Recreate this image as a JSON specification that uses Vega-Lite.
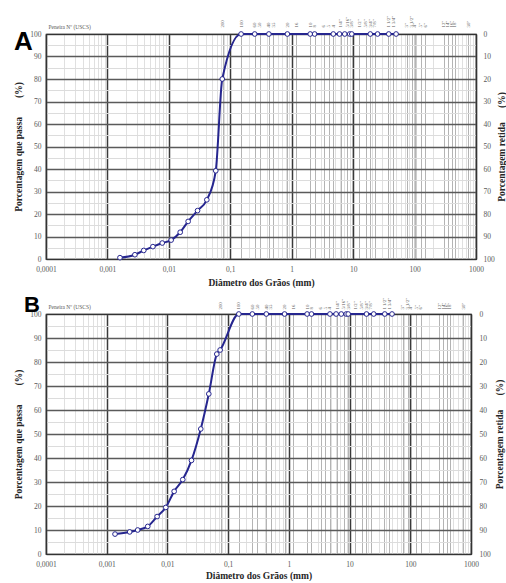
{
  "$schema": "https://vega.github.io/schema/vega-lite/v6.json",
  "padding": {"left": 13, "top": 14, "right": 0, "bottom": 0},
  "background": "white",
  "spacing": 5,
  "datasets": {
    "A": [
      {"d": 0.0016, "p": 0.6}, {"d": 0.0028, "p": 1.9}, {"d": 0.0039, "p": 3.8},
      {"d": 0.0055, "p": 5.5}, {"d": 0.0078, "p": 7.1}, {"d": 0.0109, "p": 8.4},
      {"d": 0.0153, "p": 11.9}, {"d": 0.0206, "p": 16.7}, {"d": 0.0293, "p": 21.5},
      {"d": 0.0415, "p": 26.3}, {"d": 0.058, "p": 39.2}, {"d": 0.074, "p": 80},
      {"d": 0.15, "p": 100}, {"d": 0.25, "p": 100}, {"d": 0.425, "p": 100},
      {"d": 0.85, "p": 100}, {"d": 2.0, "p": 100}, {"d": 2.36, "p": 100},
      {"d": 4.75, "p": 100}, {"d": 6.0, "p": 100}, {"d": 7.3, "p": 100},
      {"d": 8.8, "p": 100}, {"d": 9.5, "p": 100}, {"d": 19, "p": 100},
      {"d": 25, "p": 100}, {"d": 38, "p": 100}, {"d": 50, "p": 100}
    ],
    "B": [
      {"d": 0.00137, "p": 8.3}, {"d": 0.00239, "p": 9.2}, {"d": 0.00324, "p": 10.0},
      {"d": 0.00474, "p": 11.5}, {"d": 0.00676, "p": 15.6}, {"d": 0.0094, "p": 19.4},
      {"d": 0.0129, "p": 26.1}, {"d": 0.0179, "p": 31.0}, {"d": 0.0249, "p": 39.0},
      {"d": 0.0354, "p": 52.1}, {"d": 0.048, "p": 66.7}, {"d": 0.065, "p": 83.3},
      {"d": 0.0738, "p": 85}, {"d": 0.15, "p": 100}, {"d": 0.25, "p": 100},
      {"d": 0.425, "p": 100}, {"d": 0.85, "p": 100}, {"d": 2.0, "p": 100},
      {"d": 2.36, "p": 100}, {"d": 4.75, "p": 100}, {"d": 6.0, "p": 100},
      {"d": 7.3, "p": 100}, {"d": 8.8, "p": 100}, {"d": 9.5, "p": 100},
      {"d": 19, "p": 100}, {"d": 25, "p": 100}, {"d": 38, "p": 100}, {"d": 50, "p": 100}
    ]
  },
  "vconcat": [
    {
      "width": 430,
      "height": 225,
      "title": {"text": "A", "anchor": "start", "frame": "group", "orient": "top", "offset": 0, "baseline": "top", "dx": -32, "dy": 40, "fontSize": 26, "font": "Liberation Sans", "fontWeight": "bold", "color": "black"},
      "data": {"name": "A"},
      "layer": [
        {
          "mark": {"type": "line", "color": "#26268f", "strokeWidth": 2, "interpolate": "monotone",
                   "point": {"filled": false, "fill": "white", "color": "#26268f", "size": 22, "strokeWidth": 1}},
          "encoding": {
            "x": {"field": "d", "type": "quantitative",
                  "scale": {"type": "log", "domain": [0.0001, 1000]},
                  "axis": {"orient": "bottom", "title": "Diâmetro dos Grãos (mm)",
                           "values": [0.0001,0.0002,0.0003,0.0004,0.0005,0.0006,0.0007,0.0008,0.0009,0.001,0.002,0.003,0.004,0.005,0.006,0.007,0.008,0.009,0.01,0.02,0.03,0.04,0.05,0.06,0.07,0.08,0.09,0.1,0.2,0.3,0.4,0.5,0.6,0.7,0.8,0.9,1,2,3,4,5,6,7,8,9,10,20,30,40,50,60,70,80,90,100,200,300,400,500,600,700,800,900,1000],
                           "labelExpr": "indexof([0.0001,0.001,0.01,0.1,1,10,100,1000], datum.value) >= 0 ? replace(toString(datum.value), '.', ',') : ''",
                           "labelOverlap": false, "labelFlush": false, "labelPadding": 6, "titlePadding": 5,
                           "grid": true,
                           "gridColor": {"condition": {"test": "indexof([0.0001,0.001,0.01,0.1,1,10,100,1000], datum.value) >= 0", "value": "#3a3a3a"}, "value": "#e0e0e0"},
                           "gridWidth": {"condition": {"test": "indexof([0.0001,0.001,0.01,0.1,1,10,100,1000], datum.value) >= 0", "value": 1.5}, "value": 1}}},
            "y": {"field": "p", "type": "quantitative",
                  "scale": {"domain": [0, 100], "nice": false},
                  "axis": {"orient": "left", "title": "Porcentagem que passa\u00a0\u00a0\u00a0\u00a0\u00a0\u00a0\u00a0\u00a0(%)",
                           "values": [0,5,10,15,20,25,30,35,40,45,50,55,60,65,70,75,80,85,90,95,100],
                           "labelExpr": "datum.value % 10 == 0 ? datum.label : ''",
                           "labelOverlap": false, "labelFlush": false, "labelPadding": 5, "titlePadding": 6,
                           "grid": true,
                           "gridColor": {"condition": {"test": "datum.value % 10 == 0", "value": "#5a5a5a"}, "value": "#dcdcdc"},
                           "gridWidth": {"condition": {"test": "datum.value % 10 == 0", "value": 1.3}, "value": 1}}}
          }
        },
        {
          "mark": {"type": "point", "opacity": 0},
          "encoding": {
            "x": {"field": "d", "type": "quantitative",
                  "scale": {"type": "log", "domain": [0.0001, 1000]},
                  "axis": {"orient": "top", "title": "Peneira Nº  (USCS)",
                           "titleAngle": 0, "titleAlign": "left", "titleBaseline": "bottom", "titleX": 2, "titleY": -5,
                           "titleFontSize": 5.5, "titleFontWeight": "normal", "titleColor": "#595959",
                           "values": [0.075,0.15,0.25,0.3,0.425,0.5,0.85,1.18,2.0,2.36,3.35,4.0,4.75,6.3,8.0,9.5,12.5,16,19,22.4,37.5,45,75,90,101.6,125,150,300,350,400,450,750],
                           "labelExpr": "['200','100','60','50','40','35','20','16','10','8','6','5','4','1/4\"','5/16\"','3/8\"','1/2\"','5/8\"','3/4\"','7/8\"','1 1/2\"','1 3/4\"','3\"','3 1/2\"','4\"','5\"','6\"','12\"','14\"','16\"','18\"','30\"'][indexof([0.075,0.15,0.25,0.3,0.425,0.5,0.85,1.18,2.0,2.36,3.35,4.0,4.75,6.3,8.0,9.5,12.5,16,19,22.4,37.5,45,75,90,101.6,125,150,300,350,400,450,750], datum.value)]",
                           "labelAngle": -90, "labelFontSize": 4.8, "labelOverlap": false, "labelFlush": false, "labelPadding": 7,
                           "grid": true, "gridColor": "#b4b4b4", "gridWidth": 1}},
            "y": {"field": "p", "type": "quantitative",
                  "scale": {"domain": [0, 100], "nice": false},
                  "axis": {"orient": "right", "title": "Porcentagem retida\u00a0\u00a0\u00a0\u00a0\u00a0\u00a0(%)", "titleAngle": -90, "titleBaseline": "top", "titleFontSize": 9.5,
                           "values": [0,10,20,30,40,50,60,70,80,90,100],
                           "labelExpr": "'' + (100 - datum.value)",
                           "labelOverlap": false, "labelFlush": false, "labelPadding": 7, "titlePadding": 2,
                           "grid": false}}
          }
        }
      ],
      "resolve": {"axis": {"x": "independent", "y": "independent"}}
    },
    {
      "width": 425,
      "height": 240,
      "title": {"text": "B", "anchor": "start", "frame": "group", "orient": "top", "offset": 0, "baseline": "top", "dx": -22, "dy": 20, "fontSize": 22, "font": "Liberation Sans", "fontWeight": "bold", "color": "black"},
      "data": {"name": "B"},
      "layer": [
        {
          "mark": {"type": "line", "color": "#26268f", "strokeWidth": 2, "interpolate": "monotone",
                   "point": {"filled": false, "fill": "white", "color": "#26268f", "size": 22, "strokeWidth": 1}},
          "encoding": {
            "x": {"field": "d", "type": "quantitative",
                  "scale": {"type": "log", "domain": [0.0001, 1000]},
                  "axis": {"orient": "bottom", "title": "Diâmetro dos Grãos (mm)",
                           "values": [0.0001,0.0002,0.0003,0.0004,0.0005,0.0006,0.0007,0.0008,0.0009,0.001,0.002,0.003,0.004,0.005,0.006,0.007,0.008,0.009,0.01,0.02,0.03,0.04,0.05,0.06,0.07,0.08,0.09,0.1,0.2,0.3,0.4,0.5,0.6,0.7,0.8,0.9,1,2,3,4,5,6,7,8,9,10,20,30,40,50,60,70,80,90,100,200,300,400,500,600,700,800,900,1000],
                           "labelExpr": "indexof([0.0001,0.001,0.01,0.1,1,10,100,1000], datum.value) >= 0 ? replace(toString(datum.value), '.', ',') : ''",
                           "labelOverlap": false, "labelFlush": false, "labelPadding": 6, "titlePadding": 3,
                           "grid": true,
                           "gridColor": {"condition": {"test": "indexof([0.0001,0.001,0.01,0.1,1,10,100,1000], datum.value) >= 0", "value": "#3a3a3a"}, "value": "#e0e0e0"},
                           "gridWidth": {"condition": {"test": "indexof([0.0001,0.001,0.01,0.1,1,10,100,1000], datum.value) >= 0", "value": 1.5}, "value": 1}}},
            "y": {"field": "p", "type": "quantitative",
                  "scale": {"domain": [0, 100], "nice": false},
                  "axis": {"orient": "left", "title": "Porcentagem que passa\u00a0\u00a0\u00a0\u00a0\u00a0\u00a0\u00a0\u00a0(%)",
                           "values": [0,5,10,15,20,25,30,35,40,45,50,55,60,65,70,75,80,85,90,95,100],
                           "labelExpr": "datum.value % 10 == 0 ? datum.label : ''",
                           "labelOverlap": false, "labelFlush": false, "labelPadding": 5, "titlePadding": 6,
                           "grid": true,
                           "gridColor": {"condition": {"test": "datum.value % 10 == 0", "value": "#5a5a5a"}, "value": "#dcdcdc"},
                           "gridWidth": {"condition": {"test": "datum.value % 10 == 0", "value": 1.3}, "value": 1}}}
          }
        },
        {
          "mark": {"type": "point", "opacity": 0},
          "encoding": {
            "x": {"field": "d", "type": "quantitative",
                  "scale": {"type": "log", "domain": [0.0001, 1000]},
                  "axis": {"orient": "top", "title": "Peneira Nº  (USCS)",
                           "titleAngle": 0, "titleAlign": "left", "titleBaseline": "bottom", "titleX": 2, "titleY": -5,
                           "titleFontSize": 5.5, "titleFontWeight": "normal", "titleColor": "#595959",
                           "values": [0.075,0.15,0.25,0.3,0.425,0.5,0.85,1.18,2.0,2.36,3.35,4.0,4.75,6.3,8.0,9.5,12.5,16,19,22.4,37.5,45,75,90,101.6,125,150,300,350,400,450,750],
                           "labelExpr": "['200','100','60','50','40','35','20','16','10','8','6','5','4','1/4\"','5/16\"','3/8\"','1/2\"','5/8\"','3/4\"','7/8\"','1 1/2\"','1 3/4\"','3\"','3 1/2\"','4\"','5\"','6\"','12\"','14\"','16\"','18\"','30\"'][indexof([0.075,0.15,0.25,0.3,0.425,0.5,0.85,1.18,2.0,2.36,3.35,4.0,4.75,6.3,8.0,9.5,12.5,16,19,22.4,37.5,45,75,90,101.6,125,150,300,350,400,450,750], datum.value)]",
                           "labelAngle": -90, "labelFontSize": 4.8, "labelOverlap": false, "labelFlush": false, "labelPadding": 5,
                           "grid": true, "gridColor": "#b4b4b4", "gridWidth": 1}},
            "y": {"field": "p", "type": "quantitative",
                  "scale": {"domain": [0, 100], "nice": false},
                  "axis": {"orient": "right", "title": "Porcentagem retida\u00a0\u00a0\u00a0\u00a0\u00a0\u00a0(%)", "titleAngle": -90, "titleBaseline": "top", "titleFontSize": 9.5,
                           "values": [0,10,20,30,40,50,60,70,80,90,100],
                           "labelExpr": "'' + (100 - datum.value)",
                           "labelOverlap": false, "labelFlush": false, "labelPadding": 8, "titlePadding": 4,
                           "grid": false}}
          }
        }
      ],
      "resolve": {"axis": {"x": "independent", "y": "independent"}}
    }
  ],
  "config": {
    "view": {"stroke": "#333333", "strokeWidth": 1.2},
    "axis": {
      "labelFont": "Liberation Serif", "titleFont": "Liberation Serif",
      "labelColor": "#595959", "titleColor": "#262626",
      "labelFontSize": 7.5, "titleFontSize": 9.5, "titleFontWeight": "bold",
      "domainColor": "#333333", "domainWidth": 1.2, "ticks": false
    }
  }
}
